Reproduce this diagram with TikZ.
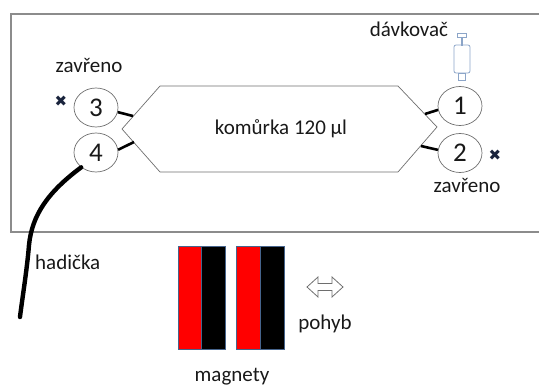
\documentclass[tikz,border=0pt]{standalone}
\usepackage{fontspec}
\setmainfont{Carlito}
\newfontfamily\symfont{DejaVu Sans}
\usetikzlibrary{shapes.geometric}

\definecolor{framegray}{RGB}{140,140,140}
\definecolor{linegray}{RGB}{110,110,110}
\definecolor{syrblue}{RGB}{140,165,200}
\definecolor{crossblue}{RGB}{25,35,60}
\definecolor{magred}{RGB}{255,0,0}
\definecolor{magedge}{RGB}{70,100,140}

\begin{document}
\begin{tikzpicture}[x=1pt, y=-1pt,
    txt/.style={font=\fontsize{21}{24}\selectfont, text=black!90, inner sep=0pt, anchor=base},
    port/.style={ellipse, draw=linegray, line width=0.7pt, minimum width=44pt, minimum height=39pt,
                 inner sep=0pt, font=\fontsize{27}{29}\selectfont, text=black!90},
    stub/.style={line width=2.6pt, black},
    cross/.style={font=\symfont\fontsize{15}{15}\selectfont, text=crossblue, inner sep=0pt}]
    \useasboundingbox (0,0) rectangle (539,387);
    \clip (0,0) rectangle (539,387);

    % frame (open to the right)
    \draw[framegray, line width=1.4pt] (545,14) -| (11,232) -- (545,232);

    % chamber
    \coordinate (hexTL) at (160,86);
    \coordinate (hexL)  at (122,129);
    \coordinate (hexBL) at (160,172);
    \coordinate (hexTR) at (398,86);
    \coordinate (hexR)  at (437,127);
    \coordinate (hexBR) at (398,172);
    \draw[linegray, line width=0.7pt] (hexTL) -- (hexTR) -- (hexR) -- (hexBR) -- (hexBL) -- (hexL) -- cycle;
    \node[txt] (chamber) at (281,135) {komůrka 120 µl};

    % ports
    \node[port] (three) at (96,107.5) {3};
    \node[port] (four)  at (96,152.5) {4};
    \node[port] (one)   at (460,106) {1};
    \node[port] (two)   at (460,153) {2};

    \coordinate (c3) at (133,116);
    \coordinate (c4) at (134,142);
    \coordinate (c1) at (425,114);
    \coordinate (c2) at (421,146);
    \draw[stub] (three.-12) -- (c3);
    \draw[stub] (four.7) -- (c4);
    \draw[stub] (one.190) -- (c1);
    \draw[stub] (two.172) -- (c2);

    \node[cross] (xthree) at (61,101) {✖};
    \node[cross] (xtwo)   at (495,155) {✖};
    \node[txt] (closedl) at (89,73)  {zavřeno};
    \node[txt] (closedr) at (467,193) {zavřeno};
    \node[txt] (doser)   at (409,37)  {dávkovač};

    % syringe
    \begin{scope}[syrblue, line width=0.8pt]
        \draw (457,33) rectangle (466,37);
        \draw (461,37) rectangle (462.5,45);
        \draw[rounded corners=2pt] (454,45) rectangle (470,73);
        \draw (458,73) rectangle (465,80);
    \end{scope}

    % tube
    \coordinate (tubeend) at (20,317);
    \draw[line width=4.4pt, line cap=round] (four.225) .. controls (48,192) and (32,215) .. (29,245)
        .. controls (27,270) and (22,300) .. (tubeend);
    \node[txt, anchor=base west] (tube) at (35,270) {hadička};

    % magnets
    \begin{scope}[draw=magedge, line width=0.6pt]
        \filldraw[fill=magred] (178,246) rectangle (201,349);
        \filldraw[fill=black]  (201,246) rectangle (225,349);
        \filldraw[fill=magred] (236,246) rectangle (260,349);
        \filldraw[fill=black]  (260,246) rectangle (284,349);
    \end{scope}
    \node[txt] (magnets) at (232,382) {magnety};

    % movement
    \draw[linegray, line width=0.8pt, line join=miter] (307,287) -- (318,277) -- (318,283.5) -- (332,283.5) -- (332,277)
        -- (343,287) -- (332,297) -- (332,290.5) -- (318,290.5) -- (318,297) -- cycle;
    \node[txt] (move) at (325,330) {pohyb};
\end{tikzpicture}
\end{document}
